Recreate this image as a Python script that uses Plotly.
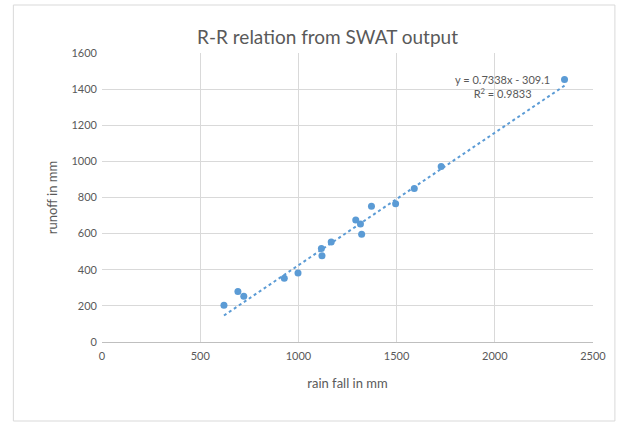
import plotly.graph_objects as go

rainfall = [621, 692, 722, 928, 998, 1117, 1120, 1167, 1292, 1316, 1322, 1372, 1495, 1590, 1727, 2355]
runoff = [203, 279, 253, 353, 382, 517, 478, 554, 676, 653, 596, 752, 766, 850, 972, 1453]
slope = 0.7338
intercept = -309.1
r2 = 0.9833
x_ticks = [0, 500, 1000, 1500, 2000, 2500]
y_ticks = [0, 200, 400, 600, 800, 1000, 1200, 1400, 1600]

color = "#5b9bd5"
textc = "#595959"
font = "Lato"

xmin, xmax = min(rainfall), max(rainfall)
trend_x = [xmin, xmax]
trend_y = [slope * v + intercept for v in trend_x]

fig = go.Figure()
fig.add_trace(go.Scatter(x=trend_x, y=trend_y, mode="lines",
                         line=dict(color=color, width=2, dash="dot"),
                         hoverinfo="skip", showlegend=False))
fig.add_trace(go.Scatter(x=rainfall, y=runoff, mode="markers",
                         marker=dict(color=color, size=7), showlegend=False))

fig.add_annotation(x=2290, y=1500, xref="x", yref="y",
                   text=f"y = {slope}x - {abs(intercept)}<br>R<sup>2</sup> = {r2}",
                   showarrow=False, xanchor="right", yanchor="top",
                   align="center",
                   font=dict(family=font, size=11, color=textc))

fig.update_layout(
    width=618, height=422,
    margin=dict(l=102, r=23, t=53, b=80),
    paper_bgcolor="white", plot_bgcolor="white",
    title=dict(text="R-R relation from SWAT output", x=0.53, xanchor="center",
               y=0.912, yanchor="middle",
               font=dict(family=font, size=19, color=textc)),
    xaxis=dict(range=[0, 2500], tickvals=x_ticks, showgrid=True, gridcolor="#d9d9d9",
               gridwidth=1, zeroline=False, showline=True, linecolor="#bfbfbf",
               mirror=False, ticks="", ticklabelstandoff=4,
               tickfont=dict(family=font, size=11, color=textc),
               title=dict(text="rain fall in mm", font=dict(family=font, size=13, color=textc),
                          standoff=17)),
    yaxis=dict(range=[0, 1600], tickvals=y_ticks, showgrid=True, gridcolor="#d9d9d9",
               gridwidth=1, zeroline=False, showline=False, ticks="",
               ticklabelstandoff=4,
               tickfont=dict(family=font, size=11, color=textc),
               title=dict(text="runoff in mm", font=dict(family=font, size=13, color=textc),
                          standoff=10)),
    shapes=[dict(type="rect", xref="paper", yref="paper",
                 x0=(13 - 102) / 493, x1=(617 - 102) / 493,
                 y0=(342 - 421) / 289, y1=(342 - 5) / 289,
                 line=dict(color="#d9d9d9", width=1), layer="below")],
)

fig.write_html("out.html", config={"displayModeBar": False},
               post_script="document.body.style.margin='0';document.body.style.overflow='hidden';")
